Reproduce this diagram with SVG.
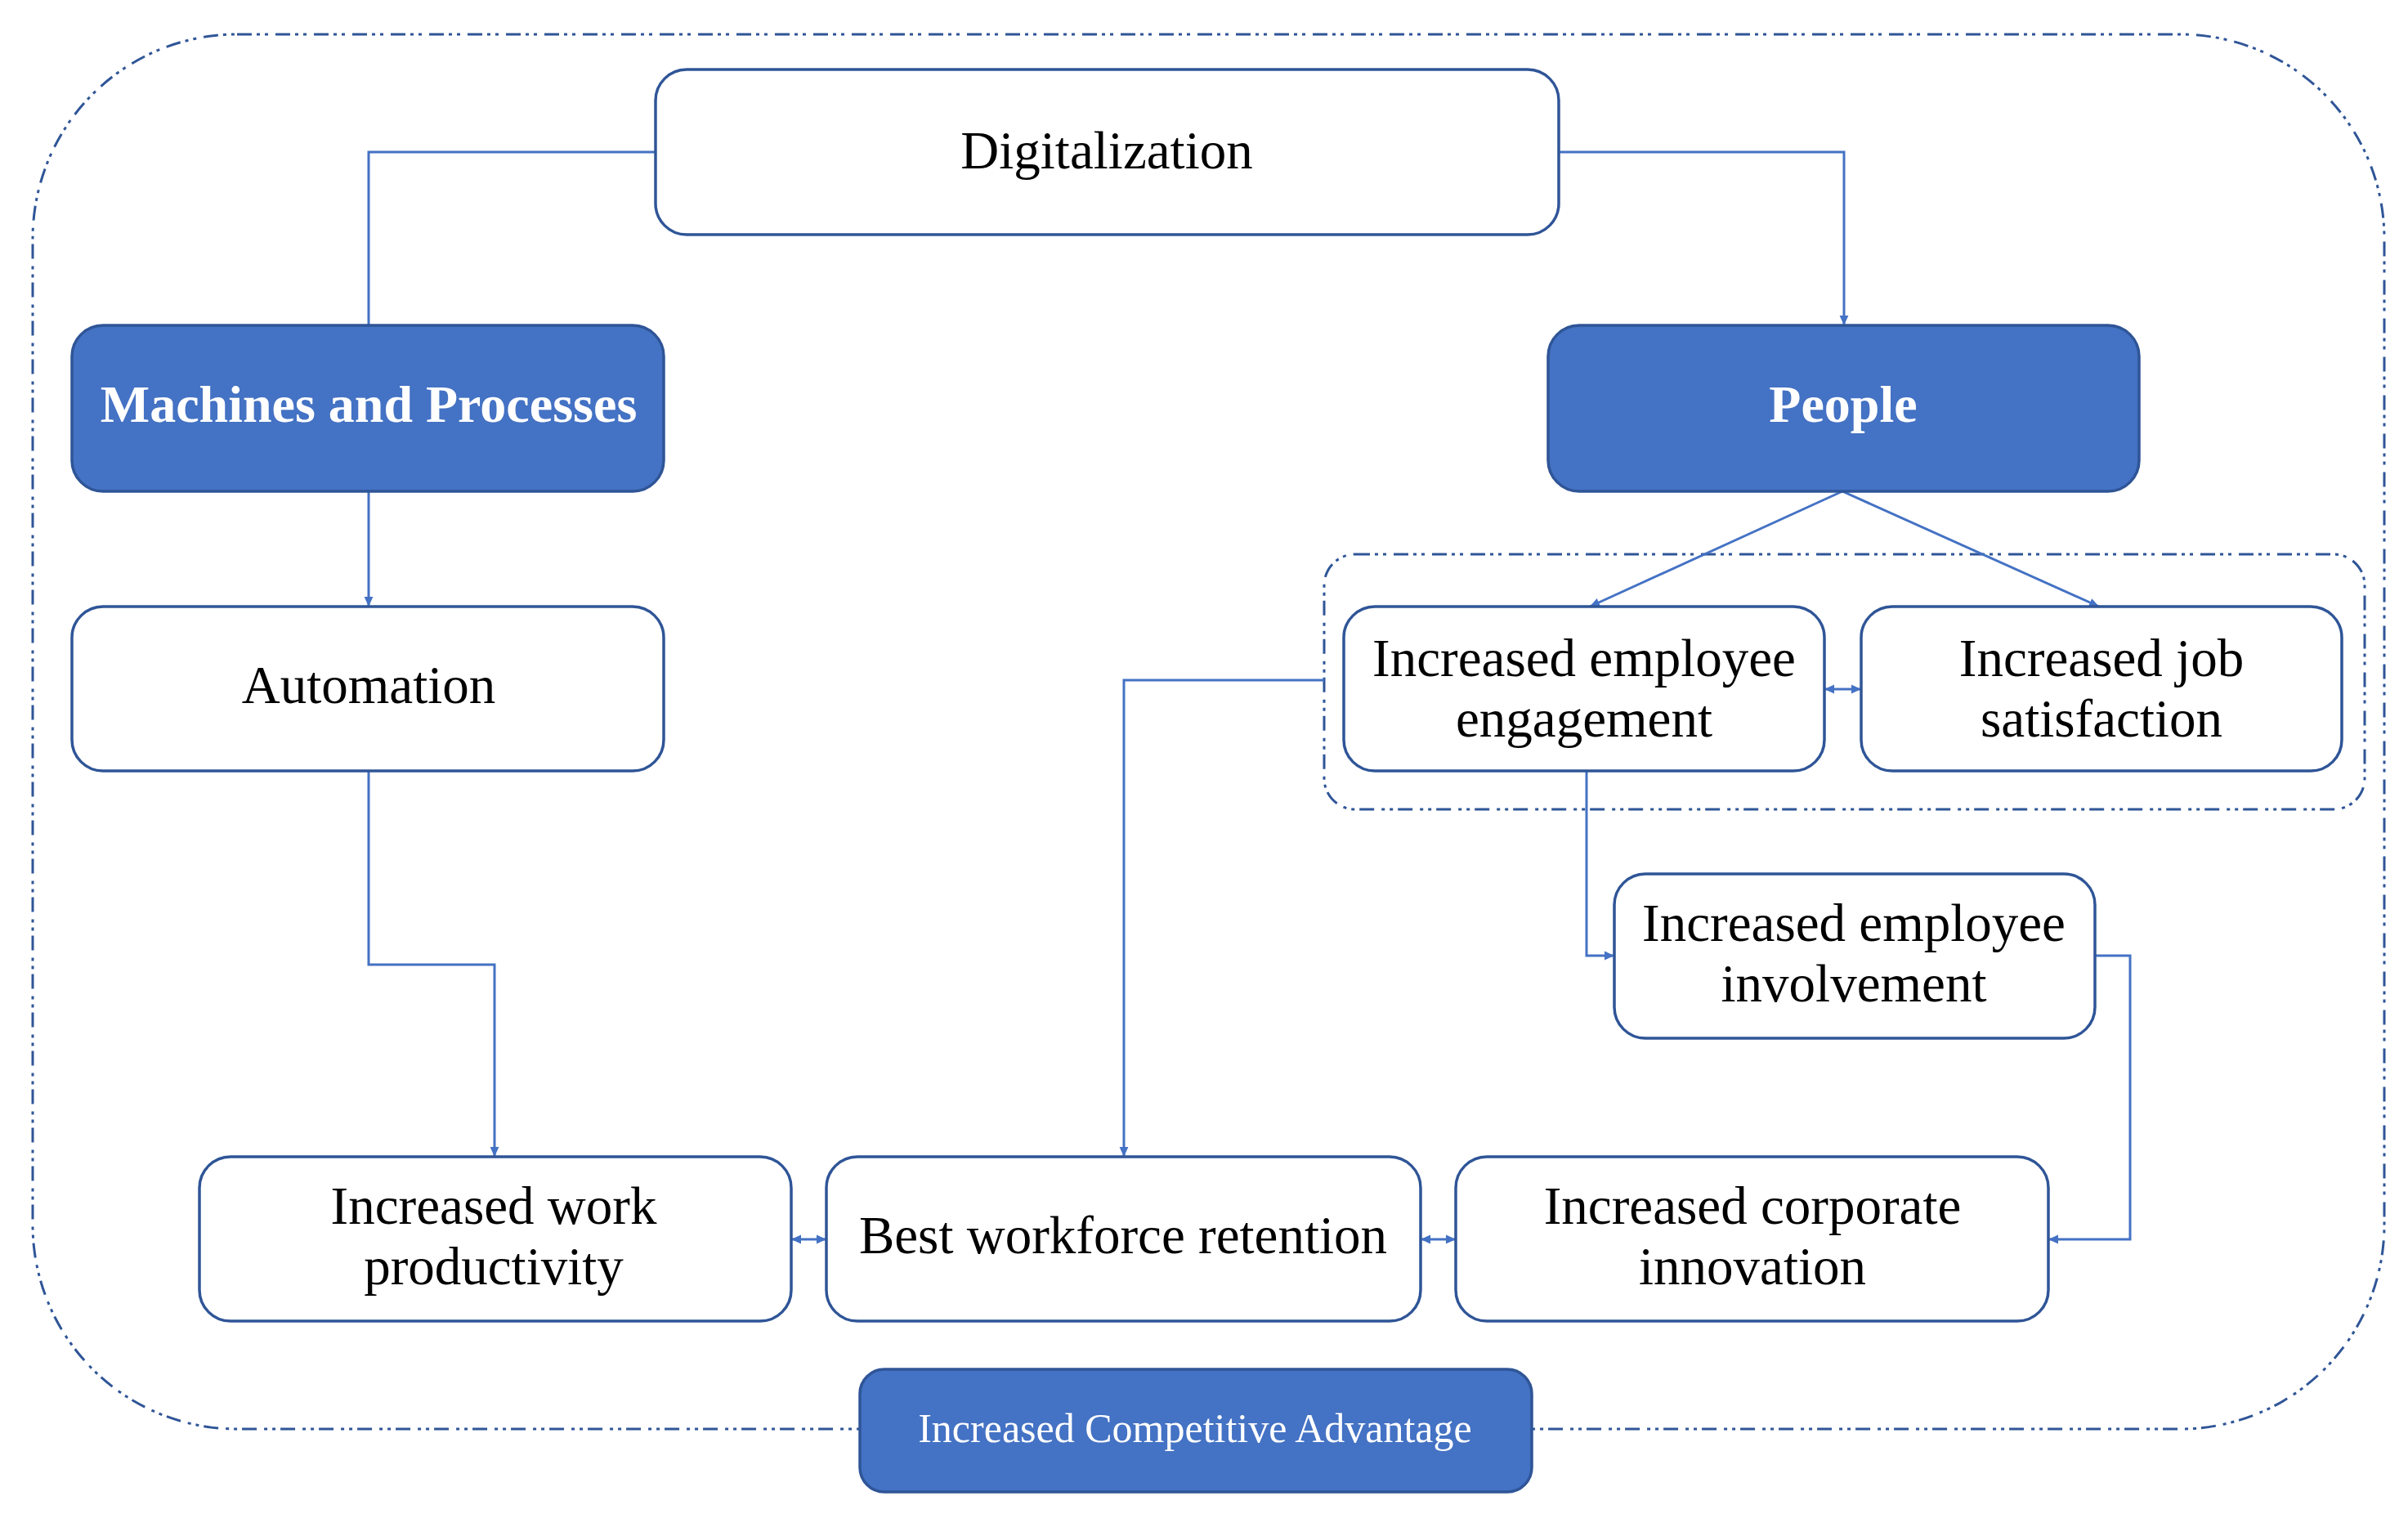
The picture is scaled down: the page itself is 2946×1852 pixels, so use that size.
<svg xmlns="http://www.w3.org/2000/svg" width="2946" height="1852" viewBox="0 0 2946 1852">
<style>
.box{fill:#FFFFFF;stroke:#2F5597;stroke-width:3.5}
.fbox{fill:#4472C4;stroke:#2F5597;stroke-width:3.5}
.t{font-family:"Liberation Serif","Times New Roman",serif;font-size:65px;fill:#000000;text-anchor:middle;dominant-baseline:central}
.tw{font-family:"Liberation Serif","Times New Roman",serif;font-size:64px;font-weight:bold;fill:#FFFFFF;text-anchor:middle;dominant-baseline:central}
.ts{font-family:"Liberation Serif","Times New Roman",serif;font-size:50px;fill:#FFFFFF;text-anchor:middle;dominant-baseline:central}
.c{fill:none;stroke:#4472C4;stroke-width:3}
.dash{fill:none;stroke:#2F5597;stroke-width:3;stroke-dasharray:18 6 4 6 4 9}
</style>
<defs>
<marker id="ah" viewBox="0 0 10 10" refX="10" refY="5" markerWidth="14" markerHeight="12" markerUnits="userSpaceOnUse" orient="auto-start-reverse">
<path d="M0,0.5 L10,5 L0,9.5 z" fill="#4472C4"/>
</marker>
</defs>
<rect width="2946" height="1852" fill="#FFFFFF"/>
<g id="boundary">
<rect class="dash" x="40" y="42" width="2877" height="1706" rx="250" ry="250"/>
</g>
<g id="people-group">
<rect class="dash" x="1620" y="678" width="1273" height="312" rx="38" ry="38" stroke-width="2.5"/>
</g>
<g id="connectors">
<path class="c" d="M802,186 H451 V398"/>
<path class="c" d="M1907,186 H2256 V398" marker-end="url(#ah)"/>
<path class="c" d="M451,601 V742" marker-end="url(#ah)"/>
<path class="c" d="M451,943 V1180 H605 V1415" marker-end="url(#ah)"/>
<path class="c" d="M2254,601 L1945,742" marker-end="url(#ah)"/>
<path class="c" d="M2254,601 L2568,742" marker-end="url(#ah)"/>
<path class="c" d="M2232,843 H2277" marker-start="url(#ah)" marker-end="url(#ah)"/>
<path class="c" d="M1941,943 V1169 H1975" marker-end="url(#ah)"/>
<path class="c" d="M2563,1169 H2606 V1516 H2506" marker-end="url(#ah)"/>
<path class="c" d="M1620,832 H1375 V1415" marker-end="url(#ah)"/>
<path class="c" d="M968,1516 H1011" marker-start="url(#ah)" marker-end="url(#ah)"/>
<path class="c" d="M1738,1516 H1781" marker-start="url(#ah)" marker-end="url(#ah)"/>
</g>
<g id="digitalization">
<rect class="box" x="802" y="85" width="1105" height="202" rx="38" ry="38"/>
<text class="t" x="1354" y="184">Digitalization</text>
</g>
<g id="machines">
<rect class="fbox" x="88" y="398" width="724" height="203" rx="38" ry="38"/>
<text class="tw" x="451" y="494">Machines and Processes</text>
</g>
<g id="people">
<rect class="fbox" x="1894" y="398" width="723" height="203" rx="38" ry="38"/>
<text class="tw" x="2255" y="494">People</text>
</g>
<g id="automation">
<rect class="box" x="88" y="742" width="724" height="201" rx="38" ry="38"/>
<text class="t" x="451" y="838">Automation</text>
</g>
<g id="engagement">
<rect class="box" x="1644" y="742" width="588" height="201" rx="38" ry="38"/>
<text class="t" x="1938" y="805">Increased employee</text>
<text class="t" x="1938" y="879">engagement</text>
</g>
<g id="satisfaction">
<rect class="box" x="2277" y="742" width="588" height="201" rx="38" ry="38"/>
<text class="t" x="2571" y="805">Increased job</text>
<text class="t" x="2571" y="879">satisfaction</text>
</g>
<g id="involvement">
<rect class="box" x="1975" y="1069" width="588" height="201" rx="38" ry="38"/>
<text class="t" x="2268" y="1129">Increased employee</text>
<text class="t" x="2268" y="1203">involvement</text>
</g>
<g id="productivity">
<rect class="box" x="244" y="1415" width="724" height="201" rx="38" ry="38"/>
<text class="t" x="604" y="1475">Increased work</text>
<text class="t" x="604" y="1549">productivity</text>
</g>
<g id="retention">
<rect class="box" x="1011" y="1415" width="727" height="201" rx="38" ry="38"/>
<text class="t" x="1374" y="1511">Best workforce retention</text>
</g>
<g id="innovation">
<rect class="box" x="1781" y="1415" width="725" height="201" rx="38" ry="38"/>
<text class="t" x="2144" y="1475">Increased corporate</text>
<text class="t" x="2144" y="1549">innovation</text>
</g>
<g id="competitive">
<rect class="fbox" x="1052" y="1675" width="822" height="150" rx="30" ry="30"/>
<text class="ts" x="1462" y="1747">Increased Competitive Advantage</text>
</g>
</svg>
